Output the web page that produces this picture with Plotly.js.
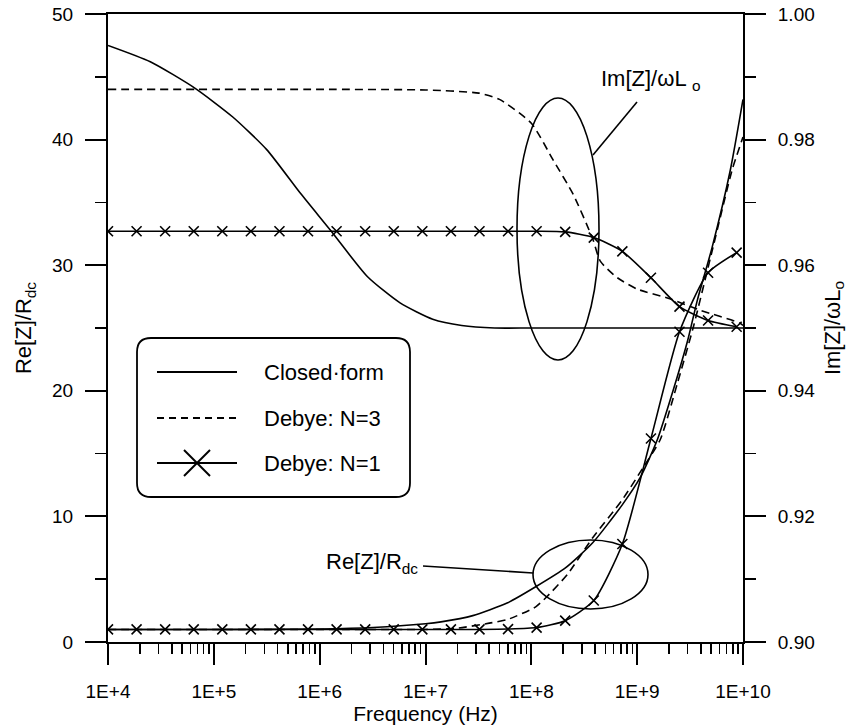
<!DOCTYPE html>
<html>
<head>
<meta charset="utf-8">
<script src="https://cdn.plot.ly/plotly-3.0.1.min.js"></script>
<style>
html,body{margin:0;padding:0;background:#fff;}
#chart{width:848px;height:726px;}
</style>
</head>
<body>
<div id="chart"></div>
<script>
// ---------------- DATA ----------------
// Frequencies in Hz
const tickFreqs = [1e4, 1e5, 1e6, 1e7, 1e8, 1e9, 1e10];
const tickLabels = ["1E+4", "1E+5", "1E+6", "1E+7", "1E+8", "1E+9", "1E+10"];

// Im[Z]/wLo, closed-form (right axis)
const imClosedF = [1e4, 2.51e4, 6.61e4, 1.51e5, 3.16e5, 6.61e5, 1.26e6, 2.82e6, 5.75e6, 1.17e7, 2.2e7, 4.5e7, 1e8, 1e9, 1e10];
const imClosedV = [0.9950, 0.9924, 0.9882, 0.9836, 0.9784, 0.9714, 0.9656, 0.9582, 0.9540, 0.9514, 0.9504, 0.9500, 0.9500, 0.9500, 0.9500];

// Im[Z]/wLo, Debye N=3 (right axis)
const imN3F = [1e4, 1e5, 1e6, 1e7, 3.2e7, 5e7, 1e8, 1.6e8, 2.5e8, 3.8e8, 4.5e8, 6.5e8, 1e9, 2e9, 4e9, 9.3e9, 1e10];
const imN3V = [0.988, 0.988, 0.988, 0.9879, 0.9874, 0.9864, 0.9826, 0.9768, 0.9712, 0.9642, 0.9606, 0.9580, 0.9562, 0.9547, 0.9528, 0.9508, 0.9504];

// Debye N=1 sample frequencies (where the x markers sit)
const n1F = [1e4, 1.862e4, 3.467e4, 6.457e4, 1.202e5, 2.239e5, 4.169e5, 7.762e5, 1.445e6, 2.692e6,
             5.012e6, 9.333e6, 1.738e7, 3.236e7, 6.026e7, 1.122e8, 2.089e8, 3.890e8, 7.244e8, 1.349e9,
             2.512e9, 4.677e9, 8.710e9];
// Im[Z]/wLo, Debye N=1 (right axis)
const imN1V = [0.9654, 0.9654, 0.9654, 0.9654, 0.9654, 0.9654, 0.9654, 0.9654, 0.9654, 0.9654,
               0.9654, 0.9654, 0.9654, 0.9654, 0.9654, 0.9654, 0.9653, 0.9644, 0.9622, 0.9580,
               0.9534, 0.9512, 0.9502];
// Re[Z]/Rdc, Debye N=1 (left axis)
const reN1V = [1.0, 1.0, 1.0, 1.0, 1.0, 1.0, 1.0, 1.0, 1.0, 1.0,
               1.0, 1.0, 1.0, 1.0, 1.03, 1.15, 1.7, 3.3, 7.8, 16.2,
               24.7, 29.4, 31.0];

// Re[Z]/Rdc, closed-form (left axis)
const reClosedF = [1e4, 1e5, 1e6, 3.2e6, 1e7, 1.4e7, 2.8e7, 5.9e7, 1.1e8, 2.1e8, 3.8e8, 7.2e8, 1.07e9, 1.55e9, 2.2e9, 3e9, 3.7e9, 5.1e9, 7.6e9, 1e10];
const reClosedV = [1.0, 1.0, 1.03, 1.15, 1.45, 1.6, 2.1, 3.1, 4.4, 5.9, 7.9, 10.9, 13.1, 16.1, 20.1, 24.0, 27.2, 31.4, 37.6, 43.2];

// Re[Z]/Rdc, Debye N=3 (left axis)
const reN3F = [1e4, 1e5, 1e6, 1e7, 2e7, 4e7, 6e7, 1.1e8, 1.4e8, 2.2e8, 3.8e8, 7.2e8, 1.14e9, 1.65e9, 2.4e9, 3.4e9, 5.2e9, 7.9e9, 1e10];
const reN3V = [1.0, 1.0, 1.0, 1.0, 1.1, 1.5, 1.8, 2.8, 3.6, 5.4, 8.3, 11.3, 13.9, 16.1, 20.6, 25.1, 31.4, 37.6, 40.2];

const legendLabels = ["Closed\u00b7form", "Debye: N=3", "Debye: N=1"];

// ---------------- STYLE / LAYOUT ----------------
const INK = '#000';
const FONT = 'Liberation Sans, Arial, Helvetica, sans-serif';
const LW = 1.6;
const DASH = '8px,5px';
const SM = 0.6;
const xMarker = {symbol: 'x-thin', size: 10, color: INK, line: {width: 1.6, color: INK}};

const traces = [
  {x: imClosedF, y: imClosedV, yaxis: 'y2', mode: 'lines', line: {color: INK, width: LW, shape: 'spline', smoothing: SM}},
  {x: imN3F, y: imN3V, yaxis: 'y2', mode: 'lines', line: {color: INK, width: LW, dash: DASH, shape: 'spline', smoothing: SM}},
  {x: n1F, y: imN1V, yaxis: 'y2', mode: 'lines+markers', line: {color: INK, width: LW, shape: 'spline', smoothing: SM}, marker: xMarker},
  {x: reClosedF, y: reClosedV, yaxis: 'y', mode: 'lines', line: {color: INK, width: LW, shape: 'spline', smoothing: SM}},
  {x: reN3F, y: reN3V, yaxis: 'y', mode: 'lines', line: {color: INK, width: LW, dash: DASH, shape: 'spline', smoothing: SM}},
  {x: n1F, y: reN1V, yaxis: 'y', mode: 'lines+markers', line: {color: INK, width: LW, shape: 'spline', smoothing: SM}, marker: xMarker}
];

// plot-area pixel box, for placing decorations
const PX0 = 108, PX1 = 743, PY0 = 14, PY1 = 642;
const px = v => (v - PX0) / (PX1 - PX0);
const py = v => (PY1 - v) / (PY1 - PY0);

// minor ticks on the log axis (2..9 per decade)
const minorVals = [];
for (let d = 4; d < 10; d++) for (let m = 2; m <= 9; m++) minorVals.push(m * Math.pow(10, d));

function roundRect(x0, y0, x1, y1, r) {
  const X = v => px(v).toFixed(5), Y = v => py(v).toFixed(5);
  return 'M' + X(x0 + r) + ',' + Y(y0) + ' L' + X(x1 - r) + ',' + Y(y0) +
    ' Q' + X(x1) + ',' + Y(y0) + ' ' + X(x1) + ',' + Y(y0 + r) +
    ' L' + X(x1) + ',' + Y(y1 - r) + ' Q' + X(x1) + ',' + Y(y1) + ' ' + X(x1 - r) + ',' + Y(y1) +
    ' L' + X(x0 + r) + ',' + Y(y1) + ' Q' + X(x0) + ',' + Y(y1) + ' ' + X(x0) + ',' + Y(y1 - r) +
    ' L' + X(x0) + ',' + Y(y0 + r) + ' Q' + X(x0) + ',' + Y(y0) + ' ' + X(x0 + r) + ',' + Y(y0) + ' Z';
}

const pLine = (x0, y0, x1, y1, w, dash) => ({type: 'line', xref: 'paper', yref: 'paper',
  x0: px(x0), y0: py(y0), x1: px(x1), y1: py(y1), line: {color: INK, width: w, dash: dash || 'solid'}});

const legRows = [372, 418, 463];
const shapes = [
  // ellipse around Im curves + leader
  {type: 'circle', xref: 'paper', yref: 'paper', x0: px(517), x1: px(599), y0: py(98), y1: py(360), line: {color: INK, width: 1.6}},
  pLine(593, 155, 637, 102, 1.6),
  // ellipse around Re curves + leader
  {type: 'circle', xref: 'paper', yref: 'paper', x0: px(533), x1: px(648), y0: py(540), y1: py(609), line: {color: INK, width: 1.6}},
  pLine(423, 566, 533, 573, 1.6),
  // legend box
  {type: 'path', xref: 'paper', yref: 'paper', path: roundRect(137, 338, 410, 497, 14), line: {color: INK, width: 1.8}, fillcolor: 'rgba(255,255,255,0)'},
  pLine(157, legRows[0], 237, legRows[0], 1.8),
  pLine(157, legRows[1], 237, legRows[1], 1.8, '7px,5px'),
  pLine(157, legRows[2], 237, legRows[2], 1.8),
  pLine(184, legRows[2] - 13, 210, legRows[2] + 13, 2),
  pLine(184, legRows[2] + 13, 210, legRows[2] - 13, 2)
];

const annotations = [
  {xref: 'paper', yref: 'paper', x: px(599), y: py(80), xanchor: 'left', yanchor: 'middle', showarrow: false,
   text: 'Im[Z]/\u03c9L <sub>o</sub>', font: {family: FONT, size: 22, color: INK}},
  {xref: 'paper', yref: 'paper', x: px(420), y: py(563), xanchor: 'right', yanchor: 'middle', showarrow: false,
   text: 'Re[Z]/R<sub>dc</sub>', font: {family: FONT, size: 22, color: INK}}
];
legendLabels.forEach((t, i) => annotations.push({xref: 'paper', yref: 'paper', x: px(262), y: py(legRows[i]),
  xanchor: 'left', yanchor: 'middle', showarrow: false, text: t, font: {family: FONT, size: 22, color: INK}}));

const axisCommon = {showgrid: false, zeroline: false, showline: true, linecolor: INK, linewidth: 2,
  ticks: 'outside', ticklen: 21, tickwidth: 2, tickcolor: INK};

const layout = {
  width: 848, height: 726,
  margin: {l: PX0, r: 848 - PX1, t: PY0, b: 726 - PY1},
  paper_bgcolor: '#fff', plot_bgcolor: '#fff',
  showlegend: false,
  font: {family: FONT, color: INK},
  xaxis: Object.assign({}, axisCommon, {
    type: 'log', range: [4, 10], mirror: true,
    tickmode: 'array', tickvals: tickFreqs, ticktext: tickLabels,
    tickfont: {family: FONT, size: 19, color: INK}, ticklabelstandoff: 10,
    minor: {tickmode: 'array', tickvals: minorVals, ticks: 'outside', ticklen: 10, tickwidth: 1.6, tickcolor: INK, showgrid: false},
    title: {text: 'Frequency (Hz)', font: {family: FONT, size: 21, color: INK}, standoff: 2}
  }),
  yaxis: Object.assign({}, axisCommon, {
    range: [0, 50], tickmode: 'linear', tick0: 0, dtick: 10,
    tickfont: {family: FONT, size: 19, color: INK}, ticklabelstandoff: 8,
    minor: {tick0: 0, dtick: 5, ticks: 'outside', ticklen: 11, tickwidth: 1.6, tickcolor: INK, showgrid: false},
    title: {text: 'Re[Z]/R<sub>dc</sub>', font: {family: FONT, size: 22, color: INK}, standoff: 14}
  }),
  yaxis2: Object.assign({}, axisCommon, {
    overlaying: 'y', side: 'right', anchor: 'x',
    range: [0.9, 1.0], tickmode: 'linear', tick0: 0.9, dtick: 0.02, tickformat: '.2f',
    tickfont: {family: FONT, size: 19, color: INK}, ticklabelstandoff: 8,
    minor: {tick0: 0.9, dtick: 0.01, ticks: 'outside', ticklen: 11, tickwidth: 1.6, tickcolor: INK, showgrid: false},
    title: {text: 'Im[Z]/\u03c9L<sub>o</sub>', font: {family: FONT, size: 22, color: INK}, standoff: 10}
  }),
  shapes: shapes,
  annotations: annotations
};

Plotly.newPlot('chart', traces, layout, {displayModeBar: false, staticPlot: true});
</script>
</body>
</html>
